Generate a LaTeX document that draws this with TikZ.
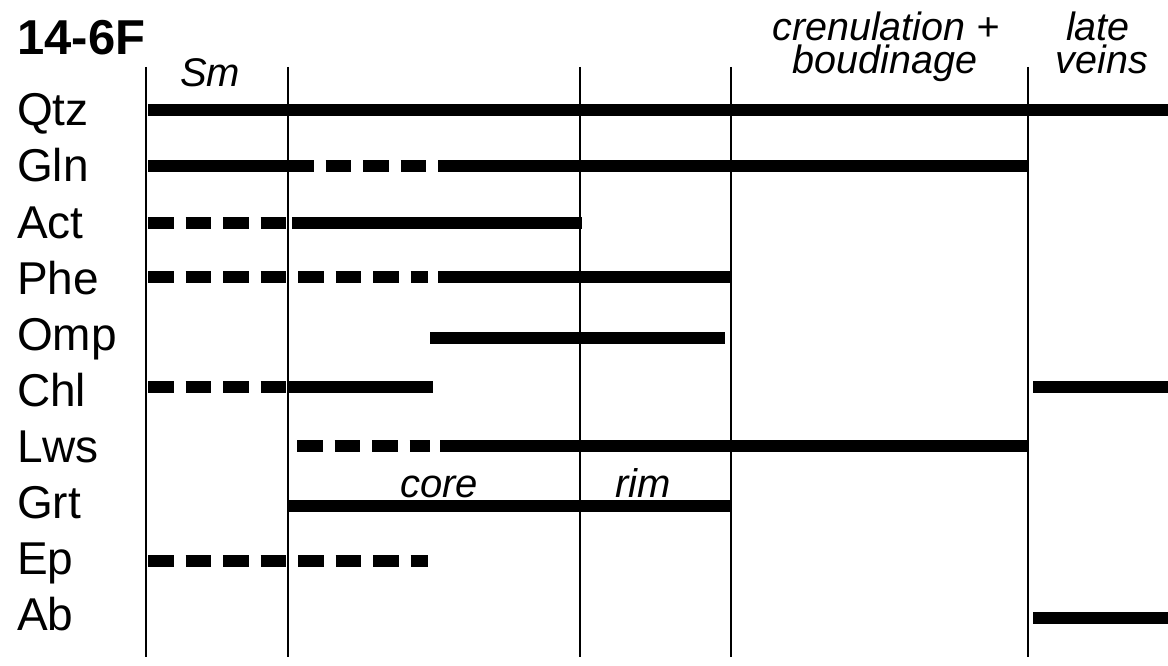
\documentclass[tikz,border=0pt]{standalone}
\usepackage{fontspec}
\setmainfont{Liberation Sans}
\begin{document}
\begin{tikzpicture}[x=1pt,y=-1pt,
  lab/.style={anchor=base west, inner sep=0pt, font=\fontsize{46}{50}\selectfont},
  ttl/.style={anchor=base west, inner sep=0pt, font=\fontsize{49}{52}\selectfont\bfseries},
  itl/.style={anchor=base, inner sep=0pt, font=\fontsize{40}{44}\selectfont\itshape},
  itls/.style={anchor=base, inner sep=0pt, font=\fontsize{39.5}{44}\selectfont\itshape},
  bar/.style={line width=12pt},
  dbar/.style={line width=12pt, dash pattern=on 25.5pt off 12pt},
  stage/.style={line width=2.8pt}]
\useasboundingbox (0,0) rectangle (1168,666);

% title
\node[ttl] (title) at (17,55) {14-6F};

% stage boundaries
\foreach \n/\x in {a/146,b/288,c/580,d/731,e/1028}{
  \coordinate (\n top) at (\x,67);
  \coordinate (\n bot) at (\x,657);
  \draw[stage] (\n top) -- (\n bot);
}

% stage labels
\node[itl] (sm) at (210,87) {Sm};
\node[itls] (cren) at (886,41) {crenulation +};
\node[itls] (boud) at (885,74) {boudinage};
\node[itls] (late) at (1098,41) {late};
\node[itls] (veins) at (1102,74) {veins};
\node[itl] (core) at (439,497) {core};
\node[itl] (rim) at (643,497) {rim};

% mineral labels
\node[lab] (qtz) at (17,126) {Qtz};
\node[lab] (gln) at (17,182) {Gln};
\node[lab] (act) at (17,238) {Act};
\node[lab] (phe) at (17,294) {Phe};
\node[lab] (omp) at (17,350) {Omp};
\node[lab] (chl) at (17,406) {Chl};
\node[lab] (lws) at (17,462) {Lws};
\node[lab] (grt) at (17,518) {Grt};
\node[lab] (ep)  at (17,574) {Ep};
\node[lab] (ab)  at (17,630) {Ab};

% Qtz
\draw[bar] (148,110) -- (1168,110);
% Gln
\draw[bar] (148,166) -- (288,166);
\draw[dbar] (288,166) -- (428,166);
\draw[bar] (438,166) -- (1027,166);
% Act
\draw[dbar] (148,223) -- (286,223);
\draw[bar] (292,223) -- (582,223);
% Phe
\draw[dbar] (148,277) -- (428,277);
\draw[bar] (438,277) -- (730,277);
% Omp
\draw[bar] (430,338) -- (725,338);
% Chl
\draw[dbar] (148,387) -- (286,387);
\draw[bar] (288,387) -- (433,387);
\draw[bar] (1033,387) -- (1168,387);
% Lws
\draw[dbar] (297,446) -- (430,446);
\draw[bar] (440,446) -- (1027,446);
% Grt
\draw[bar] (289,506) -- (731,506);
% Ep
\draw[dbar] (148,561) -- (428,561);
% Ab
\draw[bar] (1033,618) -- (1168,618);
\end{tikzpicture}
\end{document}
